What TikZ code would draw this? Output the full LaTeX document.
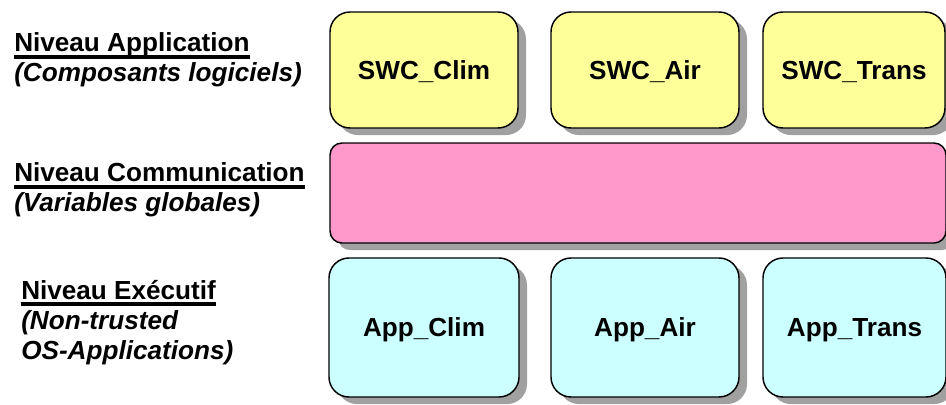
\documentclass[tikz,border=0pt]{standalone}
\usepackage{fontspec}
\setmainfont{Liberation Sans}
\usetikzlibrary{shadows}
\definecolor{yelc}{HTML}{FFFF99}
\definecolor{pinkc}{HTML}{FF99CC}
\definecolor{cyanc}{HTML}{CCFFFF}
\definecolor{shadc}{HTML}{A0A0A0}
\newcommand\myul[1]{\setbox0\hbox{#1}\rlap{\rule[-5.2pt]{\wd0}{2.6pt}}\box0}
\begin{document}
\begin{tikzpicture}[x=0.75pt,y=-0.75pt,
  boxbase/.style={draw=black, line width=1.1pt, inner sep=0pt, outer sep=0pt,
    font=\fontsize{19.6}{22}\selectfont\bfseries, text height=14pt, text depth=0pt,
    drop shadow={shadow xshift=6pt, shadow yshift=-5.3pt, fill=shadc, opacity=1}},
  yelbox/.style={boxbase, fill=yelc, rounded corners=15pt, minimum height=87pt},
  cyanbox/.style={boxbase, fill=cyanc, rounded corners=15pt, minimum height=104.25pt},
  pinkbox/.style={boxbase, fill=pinkc, rounded corners=9pt, minimum height=75pt},
  lvl/.style={anchor=base west, inner sep=0pt, font=\fontsize{19.6}{22}\selectfont\bfseries},
  lvli/.style={lvl, font=\fontsize{19.6}{22}\selectfont\bfseries\itshape}]
\useasboundingbox (0,0) rectangle (946,404);
% application row
\node[yelbox, minimum width=141pt] (swcclim) at (424,70) {SWC\_Clim};
\node[yelbox, minimum width=141pt] (swcair) at (645,70) {SWC\_Air};
\node[yelbox, minimum width=136.5pt] (swctrans) at (854,70) {SWC\_Trans};
% communication
\node[pinkbox, minimum width=462pt] (comm) at (638,193) {};
% executive row
\node[cyanbox, minimum width=142.5pt] (appclim) at (424,327.5) {App\_Clim};
\node[cyanbox, minimum width=141pt] (appair) at (645,327.5) {App\_Air};
\node[cyanbox, minimum width=137.25pt] (apptrans) at (854.5,327.5) {App\_Trans};
% labels
\node[lvl] (la1) at (14,51.7) {\myul{Niveau Application}};
\node[lvli] (la2) at (14,81.7) {(Composants logiciels)};
\node[lvl] (lb1) at (14,181.7) {\myul{Niveau Communication}};
\node[lvli] (lb2) at (14,211.7) {(Variables globales)};
\node[lvl] (lc1) at (21,299) {\myul{Niveau Exécutif}};
\node[lvli] (lc2) at (21,329) {(Non-trusted};
\node[lvli] (lc3) at (21,359) {OS-Applications)};
\end{tikzpicture}
\end{document}
